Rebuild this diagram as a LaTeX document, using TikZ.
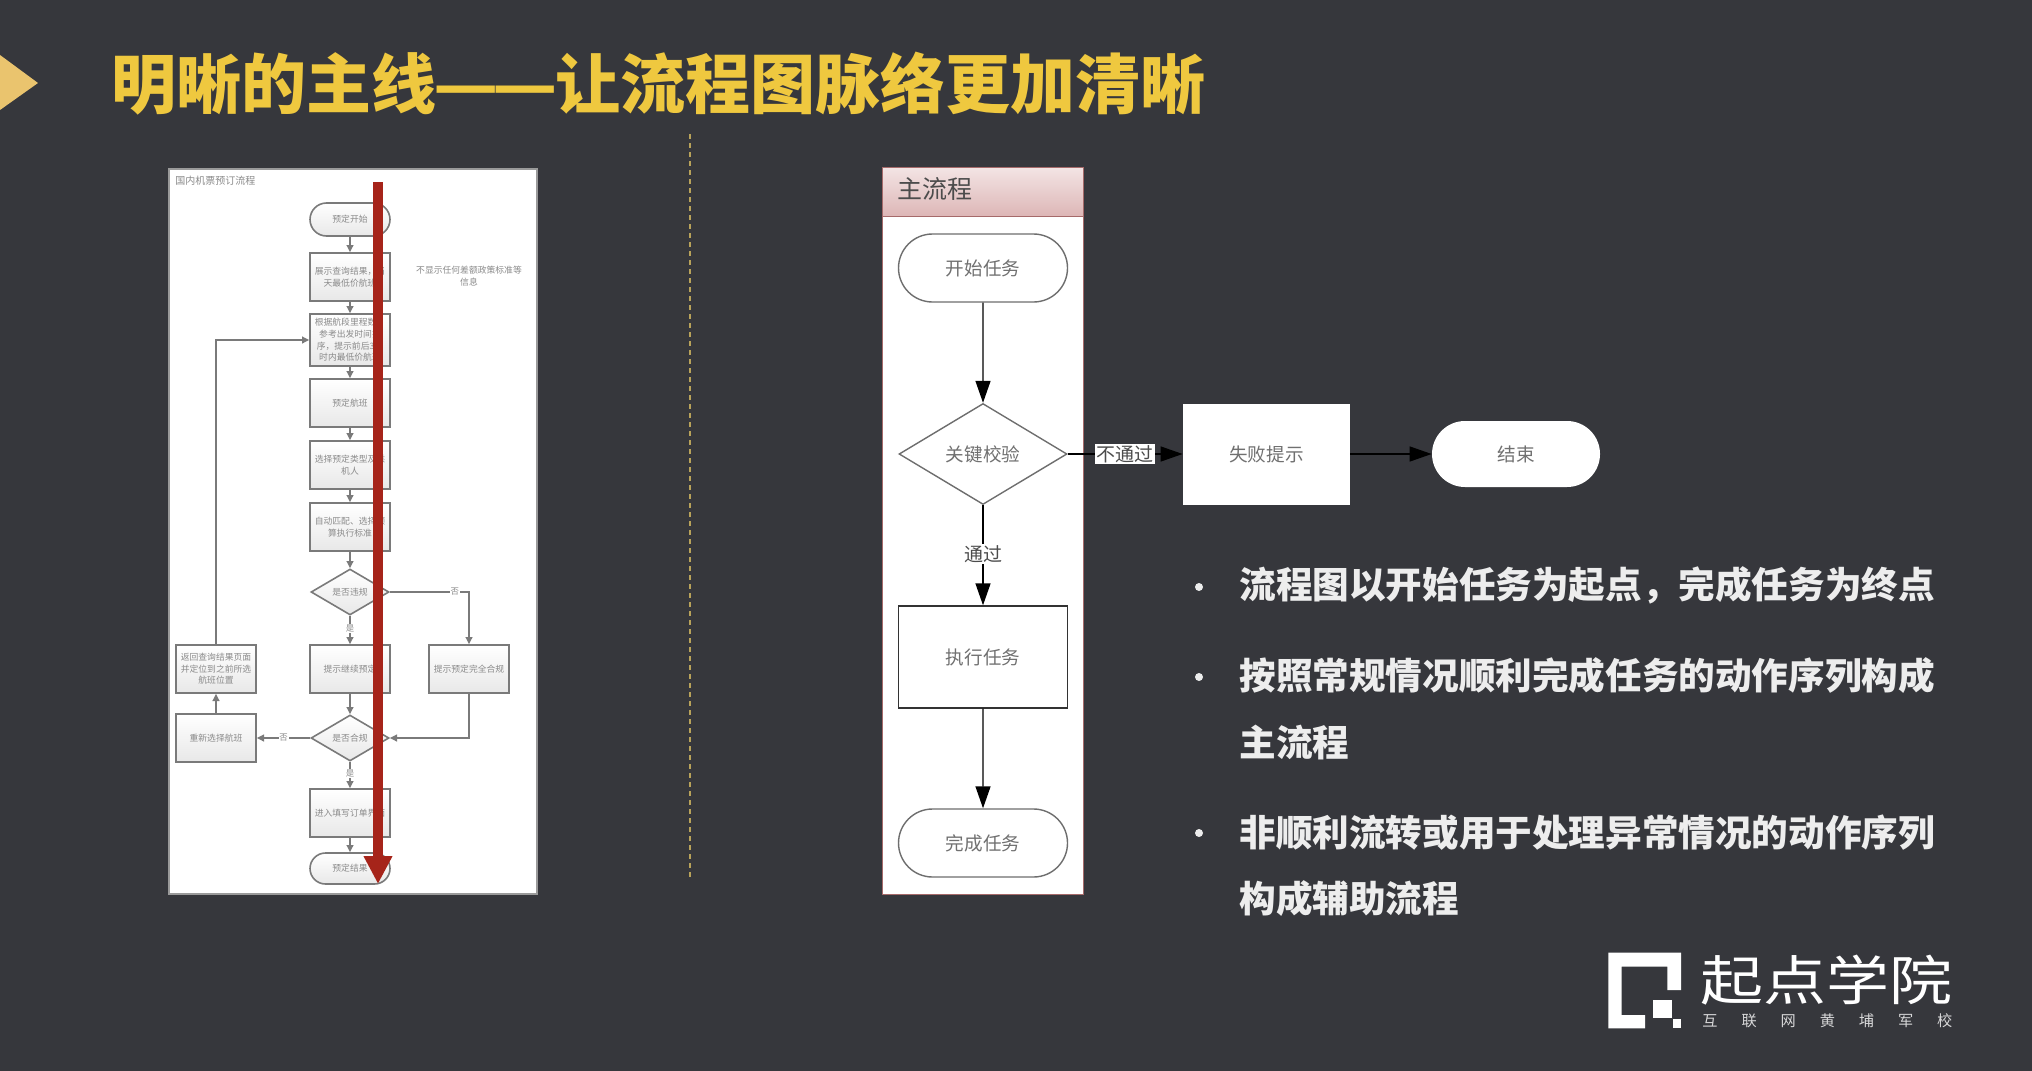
\documentclass[tikz,border=0pt]{standalone}
\usepackage{fontspec}
\setmainfont{Noto Sans CJK SC}
\usetikzlibrary{shapes.geometric,shapes.misc,arrows.meta}
\definecolor{bgc}{HTML}{36373C}
\definecolor{titlec}{HTML}{EFC83F}
\definecolor{triC}{HTML}{EAC46E}
\definecolor{dashc}{HTML}{B9A35A}
\definecolor{bodyc}{HTML}{EDEDED}
\definecolor{flowline}{HTML}{7A7A7A}
\definecolor{flowtext}{HTML}{8A8A8A}
\definecolor{maintext}{HTML}{707070}
\definecolor{mainline}{HTML}{6E6E6E}
\definecolor{redc}{HTML}{A6241A}
\definecolor{hdrtop}{HTML}{F3E4E4}
\definecolor{hdrbot}{HTML}{DDB6B6}
\definecolor{hdredge}{HTML}{A66A6A}
\definecolor{panelg}{HTML}{9A9A9A}
\newcommand{\titledash}{\makebox[29.7pt]{\scalebox{1.1}[1]{—}}}
\tikzset{
  sz/.style 2 args={minimum width=#1*0.5pt,minimum height=#2*0.5pt,inner sep=0pt},
  mini/.style={draw=flowline,line width=0.8pt,top color=white,bottom color=black!9,text=flowtext,align=center,
     font=\fontsize{4.4}{5.8}\selectfont},
  minibox/.style={mini,rectangle,sz={80}{48}},
  miniterm/.style={mini,rounded rectangle,sz={80}{33}},
  minidia/.style={mini,diamond,aspect=1.7,sz={78}{46}},
  miniedge/.style={draw=flowline,line width=0.8pt,-{Triangle[length=3.6pt,width=3.4pt]}},
  minilabel/.style={fill=white,inner sep=0.4pt,text=flowtext,font=\fontsize{4.2}{4.8}\selectfont},
  mainnode/.style={text=maintext,align=center,font=\fontsize{9.3}{11}\selectfont},
  mainedge/.style={draw=black,line width=0.7pt,-{Triangle[length=11pt,width=7.5pt]}},
  mainlabel/.style={fill=white,inner sep=0.6pt,text=black!70,font=\fontsize{9.5}{11}\selectfont},
  bullettext/.style={anchor=west,inner sep=0pt,text=bodyc,font=\fontsize{18.3}{22}\selectfont\bfseries},
  bulletdot/.style={circle,fill=bodyc,inner sep=0pt,minimum size=4pt},
}
\begin{document}
\begin{tikzpicture}[x=0.5pt,y=-0.5pt]
\useasboundingbox (0,0) rectangle (2032,1070);
\fill[bgc] (-6,-6) rectangle (2038,1076);
% title
\fill[triC] (0,55) -- (38,83) -- (0,110) -- cycle;
\node[anchor=west,inner sep=0pt,text=titlec,font=\fontsize{32.5}{36}\selectfont\bfseries] (title) at (111,84) {明晰的主线\titledash\titledash 让流程图脉络更加清晰};
% divider
\coordinate (da) at (690,134);
\coordinate (db) at (690,880);
\draw[dashc,line width=0.8pt,dash pattern=on 2.5pt off 2pt] (da) -- (db);
% left panel
\node[draw=panelg,line width=1pt,fill=white,sz={368}{725},anchor=north west] (lp) at (168,168) {};
\node[anchor=west,inner sep=0pt,text=flowtext,font=\fontsize{5}{6}\selectfont] (ltitle) at (175,181) {国内机票预订流程};
\node[miniterm] (s) at (350,219.5) {预定开始};
\node[minibox] (b1) at (350,277) {展示查询结果，当\\天最低价航班};
\node[minibox,sz={80}{52}] (b2) at (350,340) {根据航段里程数，\\参考出发时间排\\序，提示前后3天\\时内最低价航班};
\node[minibox] (b3) at (350,403) {预定航班};
\node[minibox] (b4) at (350,465) {选择预定类型及乘\\机人};
\node[minibox] (b5) at (350,527) {自动匹配、选择预\\算执行标准};
\node[minidia] (d1) at (350,592) {是否违规};
\node[minibox] (b6) at (350,669) {提示继续预定};
\node[minibox] (br) at (469,669) {提示预定完全合规};
\node[minibox] (bl) at (216,669) {返回查询结果页面\\并定位到之前所选\\航班位置};
\node[minibox] (bl2) at (216,738) {重新选择航班};
\node[minidia] (d2) at (350,738) {是否合规};
\node[minibox] (b7) at (350,813) {进入填写订单界面};
\node[miniterm,sz={80}{31}] (e) at (350,868.5) {预定结果};
\node[text=flowtext,align=center,inner sep=0pt,font=\fontsize{4.4}{5.8}\selectfont] (note) at (469,276) {不显示任何差额政策标准等\\信息};
\draw[miniedge] (s) -- (b1);
\draw[miniedge] (b1) -- (b2);
\draw[miniedge] (b2) -- (b3);
\draw[miniedge] (b3) -- (b4);
\draw[miniedge] (b4) -- (b5);
\draw[miniedge] (b5) -- (d1);
\draw[miniedge] (d1) -- node[minilabel,pos=0.45] {是} (b6);
\draw[miniedge] (d1.east) -- node[minilabel,pos=0.82] {否} (d1.east -| br) -- (br);
\draw[miniedge] (b6) -- (d2);
\draw[miniedge] (br) |- (d2.east);
\draw[miniedge] (d2) -- node[minilabel,pos=0.5] {否} (bl2);
\draw[miniedge] (bl2) -- (bl);
\draw[miniedge] (bl) |- (b2.west);
\draw[miniedge] (d2) -- node[minilabel,pos=0.45] {是} (b7);
\draw[miniedge] (b7) -- (e);
% red main line
\coordinate (ra) at (378,182);
\coordinate (rb) at (378,884);
\draw[redc,line width=4.75pt,-{Triangle[length=14pt,width=13.5pt]}] (ra) -- (rb);
% right panel
\node[draw=hdredge,line width=0.6pt,fill=white,sz={201}{727},anchor=north west] (rp) at (882,167) {};
\node[draw=hdredge,line width=0.6pt,top color=hdrtop,bottom color=hdrbot,sz={201}{49},anchor=north west] (rh) at (882,167) {};
\node[anchor=west,inner sep=0pt,text=black!70,font=\fontsize{12.5}{14}\selectfont] (rhl) at (897,189) {主流程};
\node[mainnode,draw=mainline,line width=0.7pt,fill=white,rounded rectangle,sz={169}{68}] (ms) at (983,268) {开始任务};
\node[mainnode,draw=mainline,line width=0.7pt,fill=white,diamond,aspect=1.68,sz={168}{101}] (md) at (983,454) {关键校验};
\node[mainnode,draw=black!80,line width=0.7pt,fill=white,rectangle,sz={169}{102}] (mx) at (983,657) {执行任务};
\node[mainnode,draw=mainline,line width=0.7pt,fill=white,rounded rectangle,sz={169}{68}] (mf) at (983,843) {完成任务};
\node[mainnode,fill=white,rectangle,sz={167}{101}] (mp) at (1266.5,454) {失败提示};
\node[mainnode,fill=white,rounded rectangle,sz={168}{66}] (me) at (1516,454) {结束};
\draw[mainedge] (ms) -- (md);
\draw[mainedge] (md) -- node[mainlabel,pos=0.485] {通过} (mx);
\draw[mainedge] (mx) -- (mf);
\draw[mainedge] (md) -- node[mainlabel,pos=0.5] {不通过} (mp);
\draw[mainedge] (mp) -- (me);
% bullets
\node[bulletdot] (d1x) at (1199,587) {};
\node[bullettext] (t1) at (1239,585) {流程图以开始任务为起点，完成任务为终点};
\node[bulletdot] (d2x) at (1199,677) {};
\node[bullettext] (t2) at (1239,676) {按照常规情况顺利完成任务的动作序列构成};
\node[bullettext] (t2b) at (1239,742) {主流程};
\node[bulletdot] (d3x) at (1199,833) {};
\node[bullettext] (t3) at (1239,833) {非顺利流转或用于处理异常情况的动作序列};
\node[bullettext] (t3b) at (1239,899) {构成辅助流程};
% logo
\fill[white] (1608.3,952.7) -- (1681,952.7) -- (1681,990) -- (1667.3,990) -- (1667.3,966.7) -- (1621.7,966.7) -- (1621.7,1015) -- (1645,1015) -- (1645,1028.3) -- (1608.3,1028.3) -- cycle;
\fill[white] (1653.3,1000) rectangle (1671.7,1018.3);
\fill[white] (1672.7,1019.3) rectangle (1681,1027.7);
\node[anchor=west,inner sep=0pt,text=white,font=\fontsize{31.5}{34}\selectfont] (lg) at (1700,980) {\scalebox{1}[0.85]{起点学院}};
\node[anchor=west,inner sep=0pt,text=white!80!bgc,font=\fontsize{7.6}{9}\selectfont] (lgs) at (1702,1021) {\makebox[125pt][s]{互\hfill 联\hfill 网\hfill 黄\hfill 埔\hfill 军\hfill 校}};
\end{tikzpicture}
\end{document}
